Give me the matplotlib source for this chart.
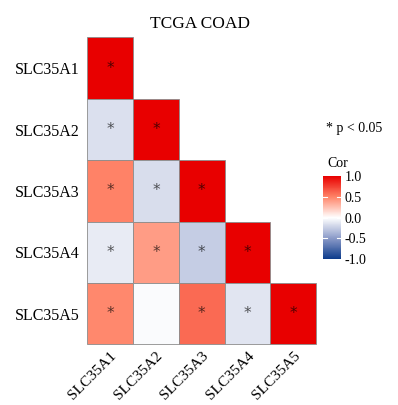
import numpy as np
import matplotlib
matplotlib.use("Agg")
import matplotlib.pyplot as plt
from matplotlib.colors import LinearSegmentedColormap, Normalize
from matplotlib.colorbar import ColorbarBase
from matplotlib.patches import Rectangle

genes = ["SLC35A1", "SLC35A2", "SLC35A3", "SLC35A4", "SLC35A5"]
# lower-triangle correlations, row by row (row i, cols 0..i)
row_A1 = [1.0]
row_A2 = [-0.15, 1.0]
row_A3 = [0.50, -0.17, 1.0]
row_A4 = [-0.10, 0.40, -0.25, 1.0]
row_A5 = [0.48, -0.02, 0.60, -0.13, 1.0]
sig_A1 = [1]
sig_A2 = [1, 1]
sig_A3 = [1, 1, 1]
sig_A4 = [1, 1, 1, 1]
sig_A5 = [1, 0, 1, 1, 1]
title = "TCGA COAD"
cbar_ticks = [1.0, 0.5, 0.0, -0.5, -1.0]

rows = [row_A1, row_A2, row_A3, row_A4, row_A5]
sigs = [sig_A1, sig_A2, sig_A3, sig_A4, sig_A5]
n = len(genes)

plt.rcParams['font.family'] = ['Liberation Serif', 'DejaVu Serif']

cmap = LinearSegmentedColormap.from_list(
    "cor", [(0.0, "#0B3A8A"), (0.25, "#8A9AC8"), (0.5, "#FFFFFF"),
            (0.75, "#FF8468"), (1.0, "#E80000")])
norm = Normalize(-1, 1)

fig = plt.figure(figsize=(3.98, 4.05), dpi=100)
ax = fig.add_axes([0.2178, 0.148, 0.578, 0.761])
for i, (r, s) in enumerate(zip(rows, sigs)):
    for j, (v, sg) in enumerate(zip(r, s)):
        ax.add_patch(Rectangle((j, i), 1, 1, facecolor=cmap(norm(v)),
                               edgecolor="#8c8c8c", linewidth=0.6))
        if sg:
            ax.text(j + 0.5, i + 0.5, "*", ha="center", va="center",
                    fontsize=11, color="black", alpha=0.65,
                    family="DejaVu Sans")
ax.set_xlim(-0.01, n + 0.01)
ax.set_ylim(n + 0.01, -0.01)
for sp in ax.spines.values():
    sp.set_visible(False)
ax.set_xticks(np.arange(n) + 0.5)
ax.set_yticks(np.arange(n) + 0.5)
ax.set_yticklabels(genes, fontsize=11.5)
ax.set_xticklabels(genes, fontsize=11, rotation=45, ha="right",
                   rotation_mode="anchor")
ax.tick_params(axis="y", length=0, pad=5)
ax.tick_params(axis="x", length=0, pad=3)

fig.text(0.503, 0.94, title, ha="center", va="center", fontsize=12.5)
fig.text(0.82, 0.683, "* p < 0.05", ha="left", va="center", fontsize=10)
fig.text(0.822, 0.597, "Cor", ha="left", va="center", fontsize=10)

cax = fig.add_axes([0.812, 0.36, 0.044, 0.205])
cb = ColorbarBase(cax, cmap=cmap, norm=norm, orientation="vertical")
cb.outline.set_visible(False)
cb.set_ticks(cbar_ticks)
cb.set_ticklabels([f"{t:.1f}" for t in cbar_ticks])
cax.tick_params(length=0, labelsize=10, pad=3)
for t in [0.5, 0.0, -0.5]:
    cax.plot([0, 0.2], [t, t], color="white", lw=0.8)
    cax.plot([0.8, 1], [t, t], color="white", lw=0.8)

fig.savefig("out.png", dpi=100)
